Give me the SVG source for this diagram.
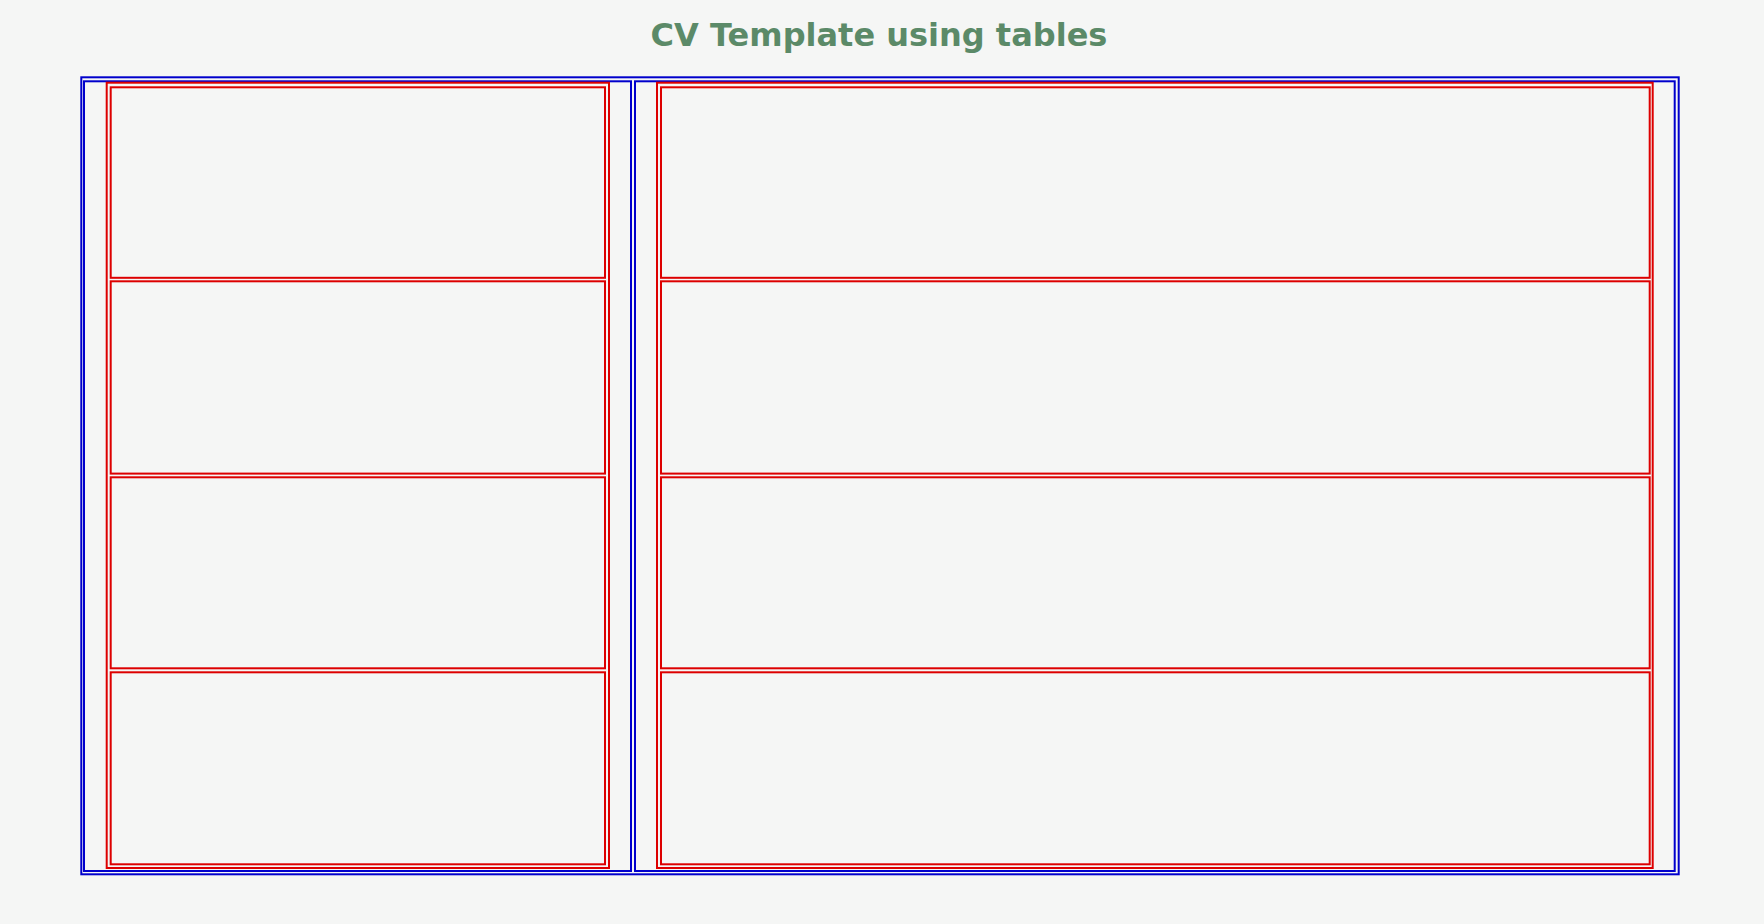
<svg xmlns="http://www.w3.org/2000/svg" width="1764" height="924" viewBox="0 0 1764 924">
  <style>
    .title { font-family: "DejaVu Sans", "Liberation Sans", sans-serif; font-weight: bold; font-size: 32px; fill: #5b8a68; }
    .blue { fill: none; stroke: #0000cc; stroke-width: 2; }
    .red { fill: none; stroke: #dd0000; stroke-width: 2; }
  </style>
  <rect x="0" y="0" width="1764" height="924" fill="#f5f6f5"/>
  <text class="title" x="879" y="46" text-anchor="middle">CV Template using tables</text>
  <g id="outer-table">
    <rect class="blue" x="81.3" y="77.3" width="1597.4" height="797"/>
  </g>
  <g id="left-column">
    <rect class="blue" x="84" y="81.3" width="547" height="789.7"/>
    <rect class="red" x="106.7" y="82.7" width="502.3" height="785.3"/>
    <g id="left-row-1"><rect class="red" x="110.7" y="87.3" width="494.3" height="190.5"/></g>
    <g id="left-row-2"><rect class="red" x="110.7" y="281.3" width="494.3" height="192.3"/></g>
    <g id="left-row-3"><rect class="red" x="110.7" y="477.3" width="494.3" height="191"/></g>
    <g id="left-row-4"><rect class="red" x="110.7" y="672.3" width="494.3" height="192"/></g>
  </g>
  <g id="right-column">
    <rect class="blue" x="635" y="81.3" width="1039.7" height="789.7"/>
    <rect class="red" x="657" y="82.7" width="995.7" height="785.3"/>
    <g id="right-row-1"><rect class="red" x="661" y="87.3" width="988.7" height="190.5"/></g>
    <g id="right-row-2"><rect class="red" x="661" y="281.3" width="988.7" height="192.3"/></g>
    <g id="right-row-3"><rect class="red" x="661" y="477.3" width="988.7" height="191"/></g>
    <g id="right-row-4"><rect class="red" x="661" y="672.3" width="988.7" height="192"/></g>
  </g>
  <g id="connectors"></g>
</svg>
